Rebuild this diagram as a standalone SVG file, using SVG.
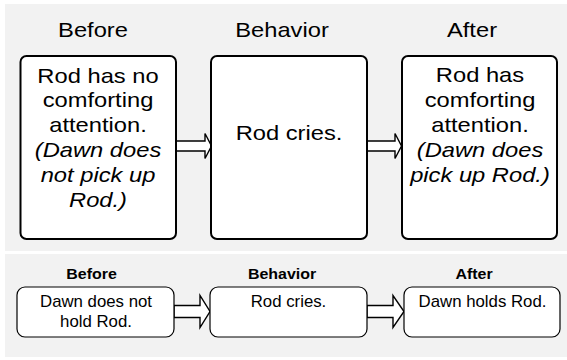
<svg xmlns="http://www.w3.org/2000/svg" width="567" height="360" viewBox="0 0 567 360">
<style>
.panel{fill:#f2f2f2}
.big{fill:#fff;stroke:#000;stroke-width:2}
.small{fill:#fff;stroke:#000;stroke-width:1.2}
.arr{fill:#fff;stroke:#000;stroke-width:1.4;stroke-linejoin:miter}
text{font-family:"Liberation Sans",Arial,sans-serif;fill:#000;text-anchor:middle}
.t{font-size:21px}
.b{font-size:21px}
.i{font-style:italic}
.st{font-size:14.5px;font-weight:bold}
.sb{font-size:16px}
</style>
<rect class="panel" x="5" y="4" width="562" height="247"/>
<rect class="panel" x="5" y="254" width="562" height="103"/>
<g id="connectors">
<polygon class="arr" points="176,141 205,141 205,133.5 211.5,146 205,158.5 205,151 176,151"/>
<polygon class="arr" points="367,141 395,141 395,133.5 401.5,146 395,158.5 395,151 367,151"/>
<polygon class="arr" points="174,305.5 200,305.5 200,295.5 210,311.5 200,327.5 200,317.5 174,317.5"/>
<polygon class="arr" points="367,305.5 393,305.5 393,295.5 404,311.5 393,327.5 393,317.5 367,317.5"/>
</g>
<g id="before">
<rect class="big" x="20.5" y="56" width="155.5" height="183" rx="6"/>
<text class="t" transform="translate(93 0) scale(1.13 1)" y="37">Before</text>
<g transform="translate(98 0) scale(1.13 1)">
<text class="b" y="83">Rod has no</text>
<text class="b" y="107.5">comforting</text>
<text class="b" y="132">attention.</text>
<text class="b i" y="157">(Dawn does</text>
<text class="b i" y="182">not pick up</text>
<text class="b i" y="207">Rod.)</text>
</g>
</g>
<g id="behavior">
<rect class="big" x="211" y="56" width="156" height="183" rx="6"/>
<text class="t" transform="translate(282 0) scale(1.13 1)" y="37">Behavior</text>
<text class="b" transform="translate(289 0) scale(1.13 1)" y="140">Rod cries.</text>
</g>
<g id="after">
<rect class="big" x="402" y="56" width="155" height="183" rx="6"/>
<text class="t" transform="translate(472 0) scale(1.13 1)" y="37">After</text>
<g transform="translate(480 0) scale(1.13 1)">
<text class="b" y="82">Rod has</text>
<text class="b" y="107.5">comforting</text>
<text class="b" y="132">attention.</text>
<text class="b i" y="157">(Dawn does</text>
<text class="b i" y="182">pick up Rod.)</text>
</g>
</g>
<g id="before2">
<rect class="small" x="17" y="287" width="157" height="50" rx="8"/>
<text class="st" transform="translate(91.5 0) scale(1.1 1)" y="279">Before</text>
<g transform="translate(96 0) scale(1.05 1)">
<text class="sb" y="307">Dawn does not</text>
<text class="sb" y="327">hold Rod.</text>
</g>
</g>
<g id="behavior2">
<rect class="small" x="210" y="287" width="157" height="50" rx="8"/>
<text class="st" transform="translate(282 0) scale(1.1 1)" y="279">Behavior</text>
<text class="sb" transform="translate(288.5 0) scale(1.05 1)" y="307">Rod cries.</text>
</g>
<g id="after2">
<rect class="small" x="404" y="287" width="156" height="50" rx="8"/>
<text class="st" transform="translate(474 0) scale(1.1 1)" y="279">After</text>
<text class="sb" transform="translate(482.5 0) scale(1.05 1)" y="307">Dawn holds Rod.</text>
</g>
</svg>
